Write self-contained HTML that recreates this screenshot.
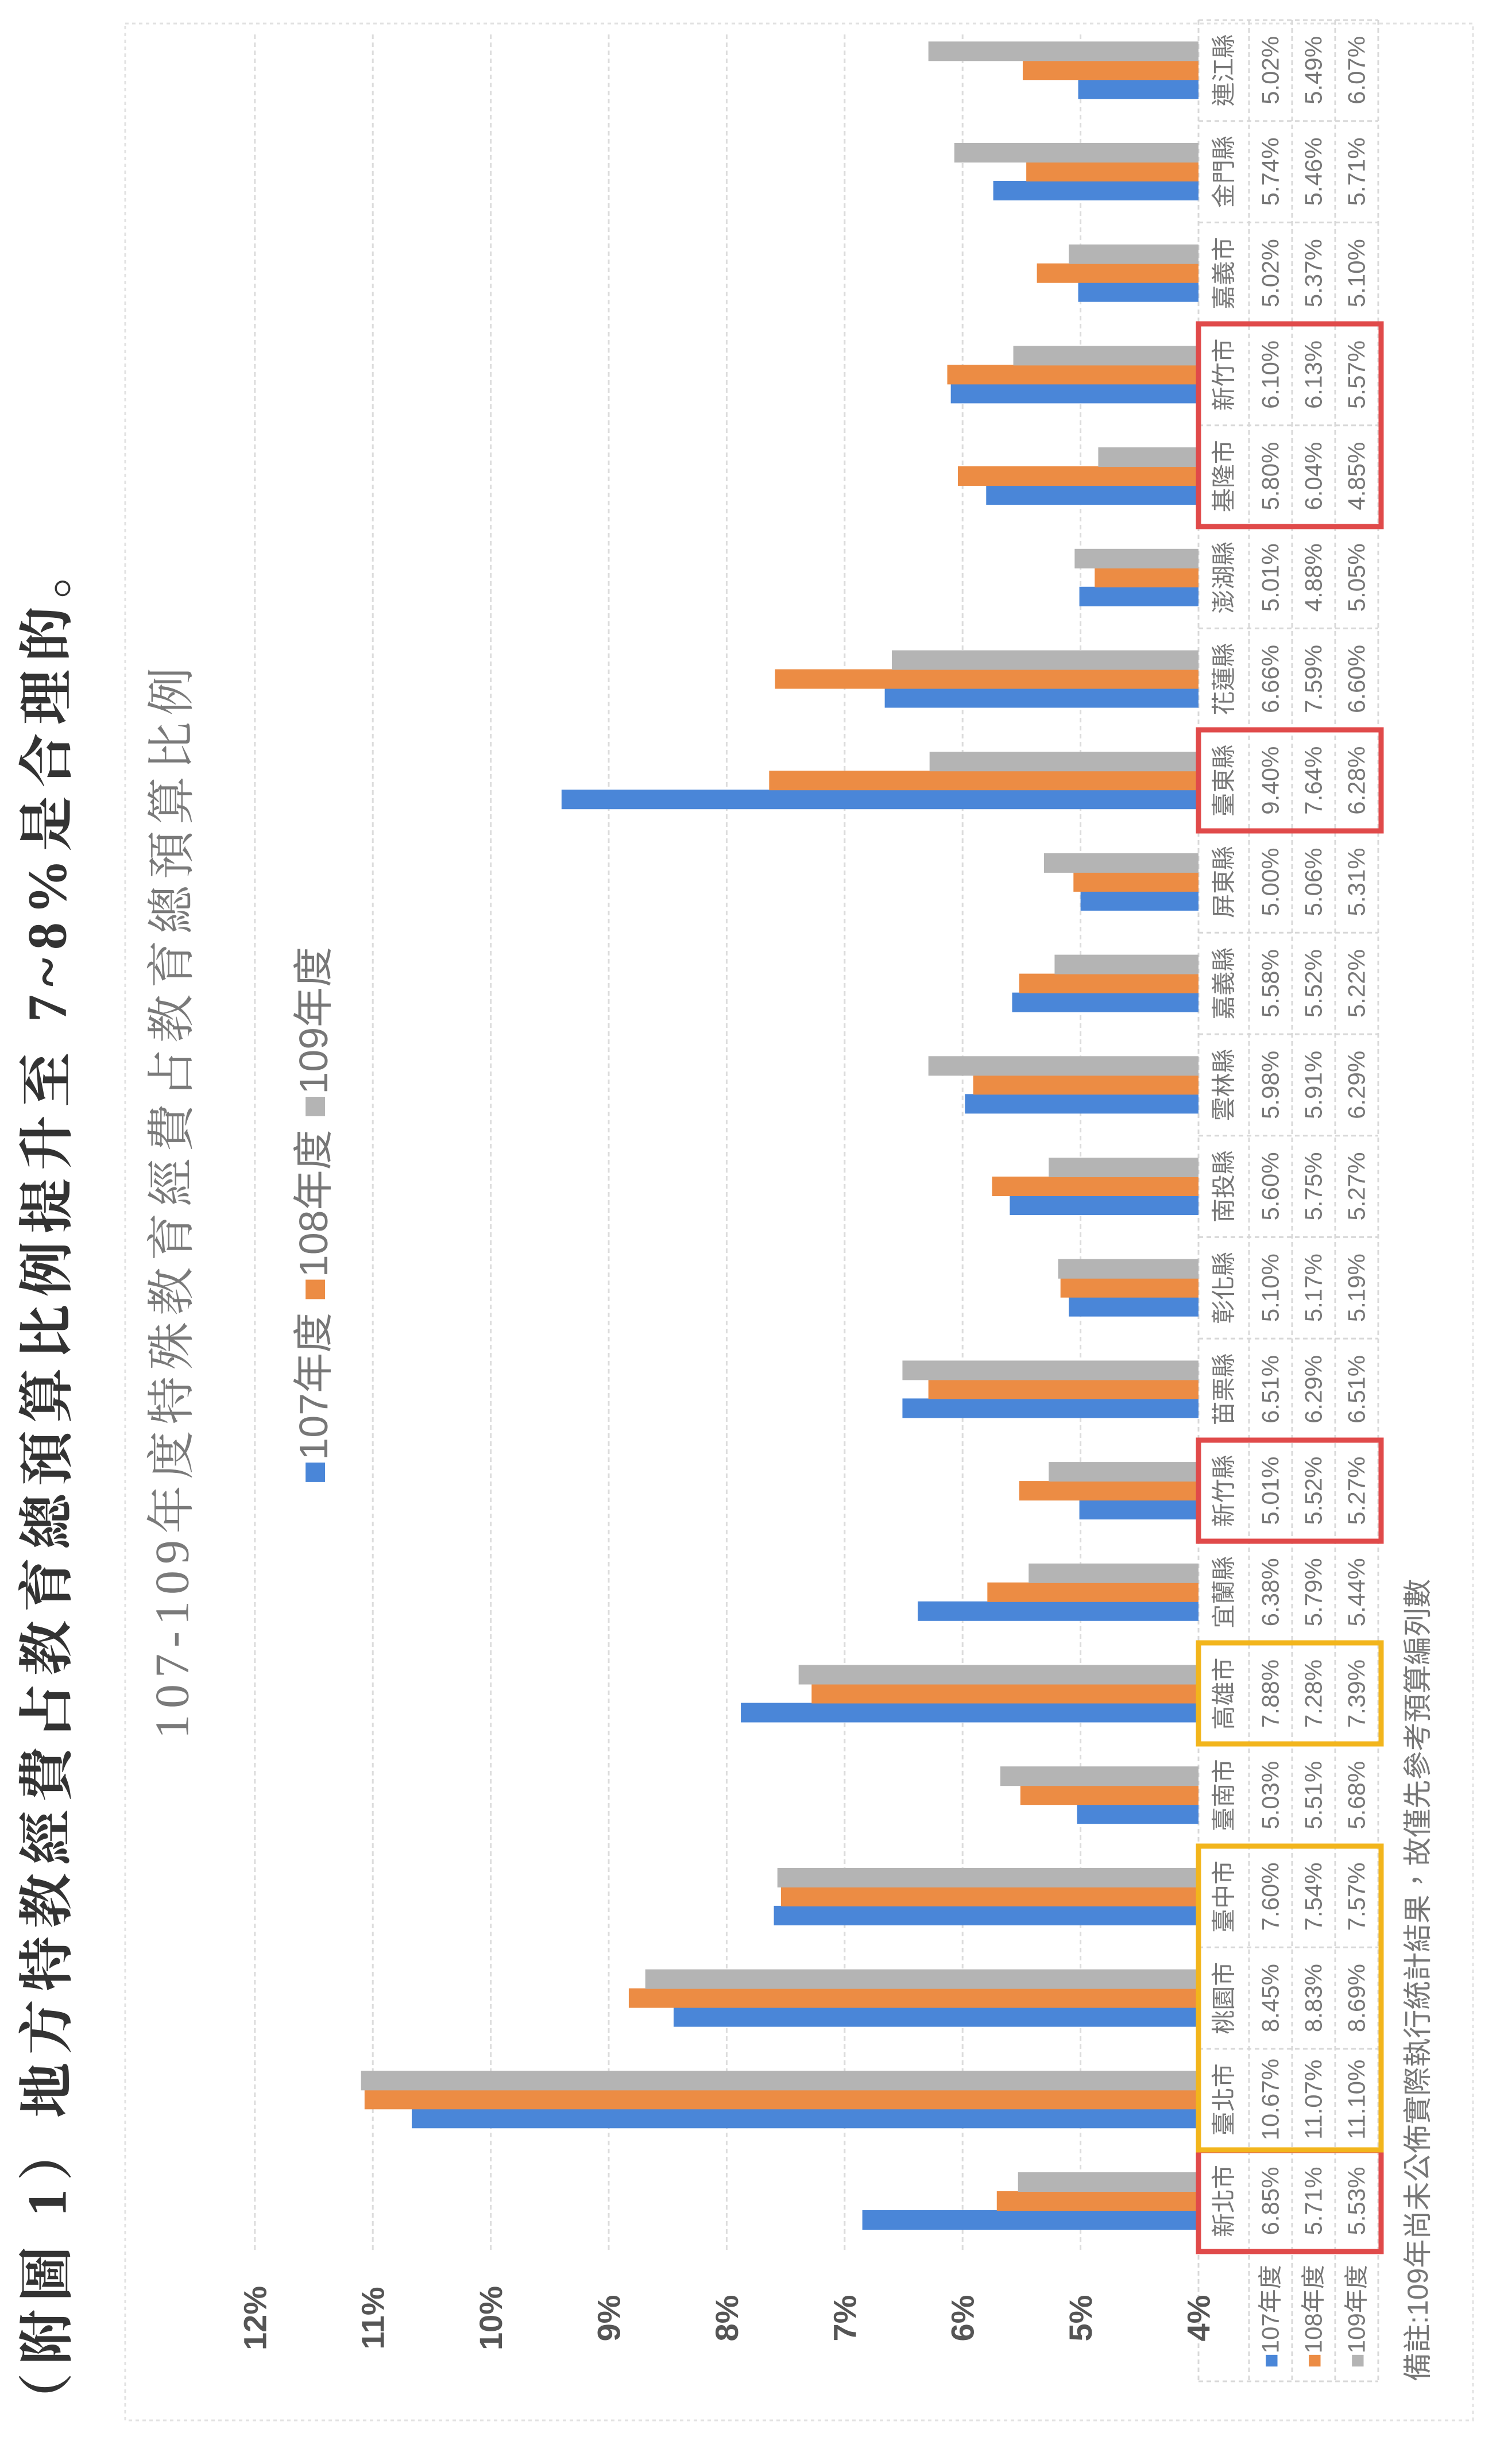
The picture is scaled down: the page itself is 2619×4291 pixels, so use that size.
<!DOCTYPE html>
<html><head><meta charset="utf-8"><style>html,body{margin:0;padding:0;background:#fff}svg{display:block}</style></head>
<body>
<svg xmlns="http://www.w3.org/2000/svg" width="2619" height="4291" viewBox="0 0 2619 4291" font-family="Liberation Sans, Noto Sans CJK TC, sans-serif">
<rect width="2619" height="4291" fill="#fff"/>
<rect x="218" y="41" width="2347" height="4174" fill="none" stroke="#e2e2e2" stroke-width="3" stroke-dasharray="6 6"/>
<g stroke="#dcdcdc" stroke-width="3" stroke-dasharray="8 6">
<line x1="1881.6" y1="60" x2="1881.6" y2="3921"/><line x1="1676.2" y1="60" x2="1676.2" y2="3921"/><line x1="1470.8" y1="60" x2="1470.8" y2="3921"/><line x1="1265.4" y1="60" x2="1265.4" y2="3921"/><line x1="1060" y1="60" x2="1060" y2="3921"/><line x1="854.6" y1="60" x2="854.6" y2="3921"/><line x1="649.2" y1="60" x2="649.2" y2="3921"/><line x1="443.8" y1="60" x2="443.8" y2="3921"/>
</g>
<g stroke="#d8d8d8" stroke-width="3" stroke-dasharray="8 6">
<line x1="2087" y1="35" x2="2087" y2="4147"/>
<line x1="2175" y1="35" x2="2175" y2="4147"/><line x1="2250" y1="35" x2="2250" y2="4147"/><line x1="2325" y1="35" x2="2325" y2="4147"/><line x1="2400" y1="35" x2="2400" y2="4147"/>
<line x1="2087" y1="4147" x2="2400" y2="4147"/>
<line x1="2087" y1="3921" x2="2400" y2="3921"/><line x1="2087" y1="3744.7" x2="2400" y2="3744.7"/><line x1="2087" y1="3568" x2="2400" y2="3568"/><line x1="2087" y1="3391.3" x2="2400" y2="3391.3"/><line x1="2087" y1="3214.6" x2="2400" y2="3214.6"/><line x1="2087" y1="3037.9" x2="2400" y2="3037.9"/><line x1="2087" y1="2861.2" x2="2400" y2="2861.2"/><line x1="2087" y1="2684.5" x2="2400" y2="2684.5"/><line x1="2087" y1="2507.8" x2="2400" y2="2507.8"/><line x1="2087" y1="2331.1" x2="2400" y2="2331.1"/><line x1="2087" y1="2154.4" x2="2400" y2="2154.4"/><line x1="2087" y1="1977.7" x2="2400" y2="1977.7"/><line x1="2087" y1="1801" x2="2400" y2="1801"/><line x1="2087" y1="1624.3" x2="2400" y2="1624.3"/><line x1="2087" y1="1447.6" x2="2400" y2="1447.6"/><line x1="2087" y1="1270.9" x2="2400" y2="1270.9"/><line x1="2087" y1="1094.2" x2="2400" y2="1094.2"/><line x1="2087" y1="917.5" x2="2400" y2="917.5"/><line x1="2087" y1="740.8" x2="2400" y2="740.8"/><line x1="2087" y1="564.1" x2="2400" y2="564.1"/><line x1="2087" y1="387.4" x2="2400" y2="387.4"/><line x1="2087" y1="210.7" x2="2400" y2="210.7"/><line x1="2087" y1="35" x2="2400" y2="35"/>
</g>
<g transform="translate(2087,0) scale(-205.4,1)">
<g fill="#4a86d8">
<rect x="0" y="3849" width="2.85" height="34"/><rect x="0" y="3672.3" width="6.67" height="34"/><rect x="0" y="3495.6" width="4.45" height="34"/><rect x="0" y="3318.9" width="3.60" height="34"/><rect x="0" y="3142.2" width="1.03" height="34"/><rect x="0" y="2965.5" width="3.88" height="34"/><rect x="0" y="2788.8" width="2.38" height="34"/><rect x="0" y="2612.1" width="1.01" height="34"/><rect x="0" y="2435.4" width="2.51" height="34"/><rect x="0" y="2258.7" width="1.10" height="34"/><rect x="0" y="2082" width="1.60" height="34"/><rect x="0" y="1905.3" width="1.98" height="34"/><rect x="0" y="1728.6" width="1.58" height="34"/><rect x="0" y="1551.9" width="1.00" height="34"/><rect x="0" y="1375.2" width="5.40" height="34"/><rect x="0" y="1198.5" width="2.66" height="34"/><rect x="0" y="1021.8" width="1.01" height="34"/><rect x="0" y="845.1" width="1.80" height="34"/><rect x="0" y="668.4" width="2.10" height="34"/><rect x="0" y="491.7" width="1.02" height="34"/><rect x="0" y="315" width="1.74" height="34"/><rect x="0" y="138.3" width="1.02" height="34"/>
</g>
<g fill="#ec8c44">
<rect x="0" y="3816" width="1.71" height="34"/><rect x="0" y="3639.3" width="7.07" height="34"/><rect x="0" y="3462.6" width="4.83" height="34"/><rect x="0" y="3285.9" width="3.54" height="34"/><rect x="0" y="3109.2" width="1.51" height="34"/><rect x="0" y="2932.5" width="3.28" height="34"/><rect x="0" y="2755.8" width="1.79" height="34"/><rect x="0" y="2579.1" width="1.52" height="34"/><rect x="0" y="2402.4" width="2.29" height="34"/><rect x="0" y="2225.7" width="1.17" height="34"/><rect x="0" y="2049" width="1.75" height="34"/><rect x="0" y="1872.3" width="1.91" height="34"/><rect x="0" y="1695.6" width="1.52" height="34"/><rect x="0" y="1518.9" width="1.06" height="34"/><rect x="0" y="1342.2" width="3.64" height="34"/><rect x="0" y="1165.5" width="3.59" height="34"/><rect x="0" y="988.8" width="0.88" height="34"/><rect x="0" y="812.1" width="2.04" height="34"/><rect x="0" y="635.4" width="2.13" height="34"/><rect x="0" y="458.7" width="1.37" height="34"/><rect x="0" y="282" width="1.46" height="34"/><rect x="0" y="105.3" width="1.49" height="34"/>
</g>
<g fill="#b4b4b4">
<rect x="0" y="3783" width="1.53" height="34"/><rect x="0" y="3606.3" width="7.10" height="34"/><rect x="0" y="3429.6" width="4.69" height="34"/><rect x="0" y="3252.9" width="3.57" height="34"/><rect x="0" y="3076.2" width="1.68" height="34"/><rect x="0" y="2899.5" width="3.39" height="34"/><rect x="0" y="2722.8" width="1.44" height="34"/><rect x="0" y="2546.1" width="1.27" height="34"/><rect x="0" y="2369.4" width="2.51" height="34"/><rect x="0" y="2192.7" width="1.19" height="34"/><rect x="0" y="2016" width="1.27" height="34"/><rect x="0" y="1839.3" width="2.29" height="34"/><rect x="0" y="1662.6" width="1.22" height="34"/><rect x="0" y="1485.9" width="1.31" height="34"/><rect x="0" y="1309.2" width="2.28" height="34"/><rect x="0" y="1132.5" width="2.60" height="34"/><rect x="0" y="955.8" width="1.05" height="34"/><rect x="0" y="779.1" width="0.85" height="34"/><rect x="0" y="602.4" width="1.57" height="34"/><rect x="0" y="425.7" width="1.10" height="34"/><rect x="0" y="249" width="2.07" height="34"/><rect x="0" y="72.3" width="2.29" height="34"/>
</g>
</g>
<g fill="none" stroke-width="9">
<rect x="2087" y="3745" width="318" height="176" stroke="#e04a4a"/>
<rect x="2087" y="3215" width="318" height="529" stroke="#f2b51c"/>
<rect x="2087" y="2861" width="318" height="176" stroke="#f2b51c"/>
<rect x="2087" y="2508" width="318" height="176" stroke="#e04a4a"/>
<rect x="2087" y="1271" width="318" height="176" stroke="#e04a4a"/>
<rect x="2087" y="564" width="318" height="353" stroke="#e04a4a"/>
</g>
<text transform="translate(82,4228) rotate(-90)" dominant-baseline="central" font-family="Liberation Serif, Noto Serif CJK SC, serif" font-weight="bold" font-size="96" letter-spacing="14" fill="#333">（附圖 1）地方特教經費占教育總預算比例提升至 7~8%是合理的。</text>
<text transform="translate(300,3028) rotate(-90)" dominant-baseline="central" font-family="Liberation Serif, Noto Serif CJK SC, serif" font-size="84" letter-spacing="11" fill="#7a7a7a">107-109年度特殊教育經費占教育總預算比例</text>
<text transform="translate(546,2585) rotate(-90)" dominant-baseline="central" font-size="70" fill="#777"><tspan fill="#4a86d8">■</tspan>107年度   <tspan fill="#ec8c44">■</tspan>108年度   <tspan fill="#b4b4b4">■</tspan>109年度</text>
<text transform="translate(2469,4147) rotate(-90)" dominant-baseline="central" font-size="50" fill="#777">備註:109年尚未公佈實際執行統計結果，故僅先參考預算編列數</text>
<g font-weight="bold" font-size="56" fill="#555" text-anchor="middle" dominant-baseline="central">
<text transform="translate(2087,4037) rotate(-90)">4%</text><text transform="translate(1881.6,4037) rotate(-90)">5%</text><text transform="translate(1676.2,4037) rotate(-90)">6%</text><text transform="translate(1470.8,4037) rotate(-90)">7%</text><text transform="translate(1265.4,4037) rotate(-90)">8%</text><text transform="translate(1060,4037) rotate(-90)">9%</text><text transform="translate(854.6,4037) rotate(-90)">10%</text><text transform="translate(649.2,4037) rotate(-90)">11%</text><text transform="translate(443.8,4037) rotate(-90)">12%</text>
</g>
<g font-size="42" fill="#777" text-anchor="middle" dominant-baseline="central">
<text transform="translate(2212,4034) rotate(-90)"><tspan fill="#4a86d8">■</tspan>107年度</text>
<text transform="translate(2287,4034) rotate(-90)"><tspan fill="#ec8c44">■</tspan>108年度</text>
<text transform="translate(2362,4034) rotate(-90)"><tspan fill="#b4b4b4">■</tspan>109年度</text>
</g>
<g font-size="42" fill="#777" text-anchor="middle" dominant-baseline="central">
<text transform="translate(2131,3833) rotate(-90)">新北市</text><text transform="translate(2212,3833) rotate(-90)">6.85%</text><text transform="translate(2287,3833) rotate(-90)">5.71%</text><text transform="translate(2362,3833) rotate(-90)">5.53%</text>
<text transform="translate(2131,3656.3) rotate(-90)">臺北市</text><text transform="translate(2212,3656.3) rotate(-90)">10.67%</text><text transform="translate(2287,3656.3) rotate(-90)">11.07%</text><text transform="translate(2362,3656.3) rotate(-90)">11.10%</text>
<text transform="translate(2131,3479.6) rotate(-90)">桃園市</text><text transform="translate(2212,3479.6) rotate(-90)">8.45%</text><text transform="translate(2287,3479.6) rotate(-90)">8.83%</text><text transform="translate(2362,3479.6) rotate(-90)">8.69%</text>
<text transform="translate(2131,3302.9) rotate(-90)">臺中市</text><text transform="translate(2212,3302.9) rotate(-90)">7.60%</text><text transform="translate(2287,3302.9) rotate(-90)">7.54%</text><text transform="translate(2362,3302.9) rotate(-90)">7.57%</text>
<text transform="translate(2131,3126.2) rotate(-90)">臺南市</text><text transform="translate(2212,3126.2) rotate(-90)">5.03%</text><text transform="translate(2287,3126.2) rotate(-90)">5.51%</text><text transform="translate(2362,3126.2) rotate(-90)">5.68%</text>
<text transform="translate(2131,2949.5) rotate(-90)">高雄市</text><text transform="translate(2212,2949.5) rotate(-90)">7.88%</text><text transform="translate(2287,2949.5) rotate(-90)">7.28%</text><text transform="translate(2362,2949.5) rotate(-90)">7.39%</text>
<text transform="translate(2131,2772.8) rotate(-90)">宜蘭縣</text><text transform="translate(2212,2772.8) rotate(-90)">6.38%</text><text transform="translate(2287,2772.8) rotate(-90)">5.79%</text><text transform="translate(2362,2772.8) rotate(-90)">5.44%</text>
<text transform="translate(2131,2596.1) rotate(-90)">新竹縣</text><text transform="translate(2212,2596.1) rotate(-90)">5.01%</text><text transform="translate(2287,2596.1) rotate(-90)">5.52%</text><text transform="translate(2362,2596.1) rotate(-90)">5.27%</text>
<text transform="translate(2131,2419.4) rotate(-90)">苗栗縣</text><text transform="translate(2212,2419.4) rotate(-90)">6.51%</text><text transform="translate(2287,2419.4) rotate(-90)">6.29%</text><text transform="translate(2362,2419.4) rotate(-90)">6.51%</text>
<text transform="translate(2131,2242.7) rotate(-90)">彰化縣</text><text transform="translate(2212,2242.7) rotate(-90)">5.10%</text><text transform="translate(2287,2242.7) rotate(-90)">5.17%</text><text transform="translate(2362,2242.7) rotate(-90)">5.19%</text>
<text transform="translate(2131,2066) rotate(-90)">南投縣</text><text transform="translate(2212,2066) rotate(-90)">5.60%</text><text transform="translate(2287,2066) rotate(-90)">5.75%</text><text transform="translate(2362,2066) rotate(-90)">5.27%</text>
<text transform="translate(2131,1889.3) rotate(-90)">雲林縣</text><text transform="translate(2212,1889.3) rotate(-90)">5.98%</text><text transform="translate(2287,1889.3) rotate(-90)">5.91%</text><text transform="translate(2362,1889.3) rotate(-90)">6.29%</text>
<text transform="translate(2131,1712.6) rotate(-90)">嘉義縣</text><text transform="translate(2212,1712.6) rotate(-90)">5.58%</text><text transform="translate(2287,1712.6) rotate(-90)">5.52%</text><text transform="translate(2362,1712.6) rotate(-90)">5.22%</text>
<text transform="translate(2131,1535.9) rotate(-90)">屏東縣</text><text transform="translate(2212,1535.9) rotate(-90)">5.00%</text><text transform="translate(2287,1535.9) rotate(-90)">5.06%</text><text transform="translate(2362,1535.9) rotate(-90)">5.31%</text>
<text transform="translate(2131,1359.2) rotate(-90)">臺東縣</text><text transform="translate(2212,1359.2) rotate(-90)">9.40%</text><text transform="translate(2287,1359.2) rotate(-90)">7.64%</text><text transform="translate(2362,1359.2) rotate(-90)">6.28%</text>
<text transform="translate(2131,1182.5) rotate(-90)">花蓮縣</text><text transform="translate(2212,1182.5) rotate(-90)">6.66%</text><text transform="translate(2287,1182.5) rotate(-90)">7.59%</text><text transform="translate(2362,1182.5) rotate(-90)">6.60%</text>
<text transform="translate(2131,1005.8) rotate(-90)">澎湖縣</text><text transform="translate(2212,1005.8) rotate(-90)">5.01%</text><text transform="translate(2287,1005.8) rotate(-90)">4.88%</text><text transform="translate(2362,1005.8) rotate(-90)">5.05%</text>
<text transform="translate(2131,829.1) rotate(-90)">基隆市</text><text transform="translate(2212,829.1) rotate(-90)">5.80%</text><text transform="translate(2287,829.1) rotate(-90)">6.04%</text><text transform="translate(2362,829.1) rotate(-90)">4.85%</text>
<text transform="translate(2131,652.4) rotate(-90)">新竹市</text><text transform="translate(2212,652.4) rotate(-90)">6.10%</text><text transform="translate(2287,652.4) rotate(-90)">6.13%</text><text transform="translate(2362,652.4) rotate(-90)">5.57%</text>
<text transform="translate(2131,475.7) rotate(-90)">嘉義市</text><text transform="translate(2212,475.7) rotate(-90)">5.02%</text><text transform="translate(2287,475.7) rotate(-90)">5.37%</text><text transform="translate(2362,475.7) rotate(-90)">5.10%</text>
<text transform="translate(2131,299) rotate(-90)">金門縣</text><text transform="translate(2212,299) rotate(-90)">5.74%</text><text transform="translate(2287,299) rotate(-90)">5.46%</text><text transform="translate(2362,299) rotate(-90)">5.71%</text>
<text transform="translate(2131,122.3) rotate(-90)">連江縣</text><text transform="translate(2212,122.3) rotate(-90)">5.02%</text><text transform="translate(2287,122.3) rotate(-90)">5.49%</text><text transform="translate(2362,122.3) rotate(-90)">6.07%</text>
</g>
</svg>
</body></html>
